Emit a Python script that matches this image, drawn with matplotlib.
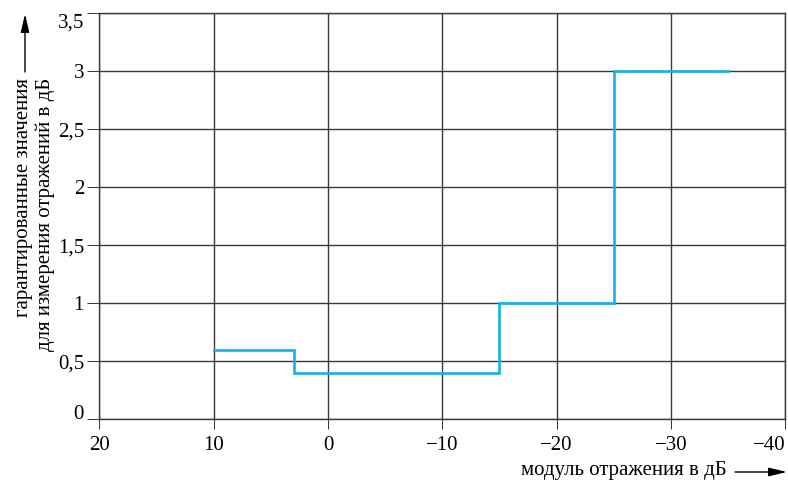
import matplotlib
matplotlib.use("Agg")
import matplotlib.pyplot as plt
from matplotlib.patches import FancyArrowPatch
from matplotlib.ticker import FixedLocator

# Return loss bands (dB) and guaranteed measurement uncertainty (dB)
band_edges = [10, 3, -15, -25, -35]
uncertainty = [0.6, 0.4, 1.0, 3.0]

x_ticks = [20, 10, 0, -10, -20, -30, -40]
x_labels = ["20", "10", "0", "\u221210", "\u221220", "\u221230", "\u221240"]
y_ticks = [0, 0.5, 1, 1.5, 2, 2.5, 3, 3.5]
y_labels = ["0", "0,5", "1", "1,5", "2", "2,5", "3", "3,5"]

plt.rcParams["font.family"] = ["Liberation Serif", "DejaVu Serif"]

W, H = 788, 483
fig = plt.figure(figsize=(W / 100, H / 100), dpi=100)
ax = fig.add_axes([99.3 / W, 1 - 419.3 / H, (785.3 - 99.3) / W, (419.3 - 13.3) / H])

grid_c = "#3a3a3a"
fs = 15
ax.set_xlim(20, -40)
ax.set_ylim(0, 3.5)
ax.xaxis.set_major_locator(FixedLocator(x_ticks))
ax.yaxis.set_major_locator(FixedLocator(y_ticks))
ax.set_xticklabels(x_labels)
ax.set_yticklabels(y_labels)
ax.grid(True, color=grid_c, linewidth=1.0)
for s in ax.spines.values():
    s.set_color(grid_c)
    s.set_linewidth(1.0)
ax.tick_params(axis="x", length=7.5, width=0.75, color=grid_c, pad=4.5, labelsize=fs)
ax.tick_params(axis="y", length=8.5, width=0.75, color=grid_c, pad=2.5, labelsize=fs)

xl = ax.get_xticklabels()
xl[-1].set_horizontalalignment("right")
yl = ax.get_yticklabels()
yl[0].set_verticalalignment("baseline")
yl[-1].set_verticalalignment("top")

step_y = uncertainty + [uncertainty[-1]]
ax.step(band_edges, step_y, where="post", color="#14b1ea", linewidth=1.9,
        solid_joinstyle="miter", zorder=3)

def px(x, y):
    return (x / W, 1 - y / H)

# vertical axis caption
fig.text(*px(28, 78), "гарантированные значения", rotation=90,
         rotation_mode="anchor", ha="right", va="baseline", fontsize=fs)
fig.text(*px(50, 78), "для измерения отражений в дБ", rotation=90,
         rotation_mode="anchor", ha="right", va="baseline", fontsize=fs)
fig.add_artist(FancyArrowPatch(
    px(25, 72), px(25, 14), transform=fig.transFigure,
    arrowstyle="-|>,head_length=11,head_width=2.6", color="black",
    linewidth=1.0, shrinkA=0, shrinkB=0))

# horizontal axis caption
fig.text(*px(521, 475), "модуль отражения в дБ", ha="left", va="baseline",
         fontsize=fs)
fig.add_artist(FancyArrowPatch(
    px(735, 472), px(787, 472), transform=fig.transFigure,
    arrowstyle="-|>,head_length=11,head_width=2.6", color="black",
    linewidth=1.0, shrinkA=0, shrinkB=0))

fig.savefig("out.png", dpi=100, facecolor="white")
